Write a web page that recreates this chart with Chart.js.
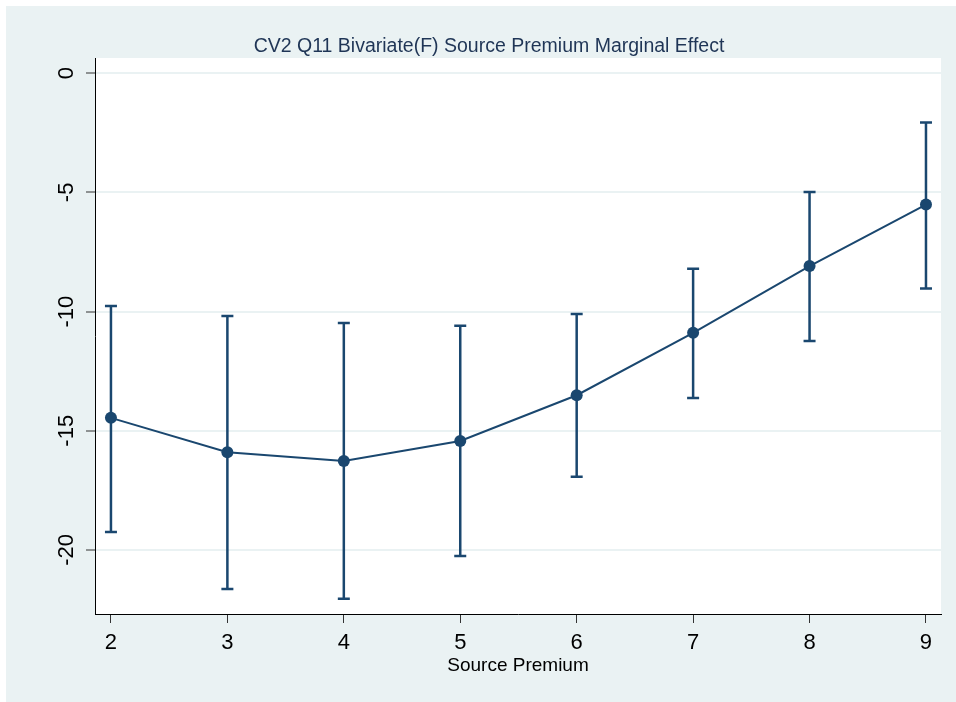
<!DOCTYPE html>
<html>
<head>
<meta charset="utf-8">
<script src="https://cdn.jsdelivr.net/npm/chart.js@4"></script>
<style>
  html, body { margin: 0; padding: 0; background: #fff; overflow: hidden; }
  #wrap { width: 956px; height: 702px; }
  canvas { display: block; }
</style>
</head>
<body>
<div id="wrap"><canvas id="myChart" width="956" height="702"></canvas></div>
<script>
// Source premium levels and the marginal effect with 95% CI
const premium = [2, 3, 4, 5, 6, 7, 8, 9];
const effect = [-14.46, -15.90, -16.27, -15.43, -13.51, -10.89, -8.09, -5.51];
const ciUpper = [-9.77, -10.19, -10.48, -10.60, -10.10, -8.20, -4.98, -2.07];
const ciLower = [-19.25, -21.64, -22.05, -20.26, -16.93, -13.63, -11.23, -9.03];
const xTicks = [2, 3, 4, 5, 6, 7, 8, 9];
const yTicks = [0, -5, -10, -15, -20];

const navy = "#1A476F";
const fontName = "'Liberation Sans', Arial, sans-serif";

// graph region + plot region backgrounds, title, rotated y labels
const stataFrame = {
  id: "stataFrame",
  beforeDraw(chart) {
    const c = chart.ctx, a = chart.chartArea;
    c.save();
    c.fillStyle = "#ffffff";
    c.fillRect(0, 0, chart.width, chart.height);
    c.fillStyle = "#EAF2F3";
    c.fillRect(6, 6, chart.width - 6, chart.height - 6);
    c.fillStyle = "#ffffff";
    c.fillRect(a.left, a.top, a.right - a.left, a.bottom - a.top);
    c.restore();
  },
  afterDraw(chart) {
    const c = chart.ctx, y = chart.scales.y;
    c.save();
    c.fillStyle = "#1F3556";
    c.font = "19.5px " + fontName;
    c.textAlign = "center";
    c.textBaseline = "alphabetic";
    c.fillText("CV2 Q11 Bivariate(F) Source Premium Marginal Effect", 489, 52);

    c.fillStyle = "#000";
    c.font = "22px " + fontName;
    c.textBaseline = "middle";
    y.ticks.forEach(t => {
      const py = y.getPixelForValue(t.value);
      c.save();
      c.translate(67, py);
      c.rotate(-Math.PI / 2);
      c.fillText(String(t.value), 0, 0);
      c.restore();
    });
    c.restore();
  }
};

// vertical CI spikes with caps
const ciBars = {
  id: "ciBars",
  beforeDatasetsDraw(chart) {
    const c = chart.ctx, xs = chart.scales.x, ys = chart.scales.y;
    c.save();
    c.strokeStyle = navy;
    c.lineWidth = 2.5;
    premium.forEach((p, i) => {
      const px = xs.getPixelForValue(p);
      const top = ys.getPixelForValue(ciUpper[i]);
      const bot = ys.getPixelForValue(ciLower[i]);
      c.beginPath();
      c.moveTo(px, top); c.lineTo(px, bot);
      c.moveTo(px - 6, top); c.lineTo(px + 6, top);
      c.moveTo(px - 6, bot); c.lineTo(px + 6, bot);
      c.stroke();
    });
    c.restore();
  }
};

const ctx = document.getElementById("myChart").getContext("2d");
new Chart(ctx, {
  type: "scatter",
  data: {
    datasets: [{
      data: premium.map((p, i) => ({ x: p, y: effect[i] })),
      showLine: true,
      borderColor: navy,
      borderWidth: 2,
      backgroundColor: navy,
      pointRadius: 6,
      pointBorderWidth: 0,
      pointHoverRadius: 6
    }]
  },
  options: {
    responsive: false,
    animation: false,
    events: [],
    layout: { padding: { left: 0, right: 15, top: 58, bottom: 0 } },
    plugins: {
      legend: { display: false },
      tooltip: { enabled: false },
      title: { display: false }
    },
    scales: {
      x: {
        type: "linear",
        min: 1.863,
        max: 9.129,
        afterBuildTicks(scale) { scale.ticks = xTicks.map(v => ({ value: v })); },
        afterFit(scale) { scale.height = 88; },
        grid: { drawOnChartArea: false, drawTicks: true, tickLength: 9, tickColor: "#333", tickWidth: 1 },
        border: { display: true, color: "#000", width: 1 },
        ticks: { color: "#000", font: { family: fontName, size: 22 }, padding: 7, maxRotation: 0 },
        title: {
          display: true,
          text: "Source Premium",
          color: "#000",
          font: { family: fontName, size: 19 },
          padding: { top: 0, bottom: 25 }
        }
      },
      y: {
        type: "linear",
        min: -22.69,
        max: 0.64,
        afterBuildTicks(scale) { scale.ticks = yTicks.map(v => ({ value: v })); },
        afterFit(scale) { scale.width = 95; },
        grid: { color: "#EAF2F3", lineWidth: 2, drawTicks: true, tickLength: 9, tickColor: "#333", tickWidth: 1 },
        border: { display: true, color: "#000", width: 1 },
        ticks: { display: false }
      }
    }
  },
  plugins: [stataFrame, ciBars]
});
</script>
</body>
</html>
